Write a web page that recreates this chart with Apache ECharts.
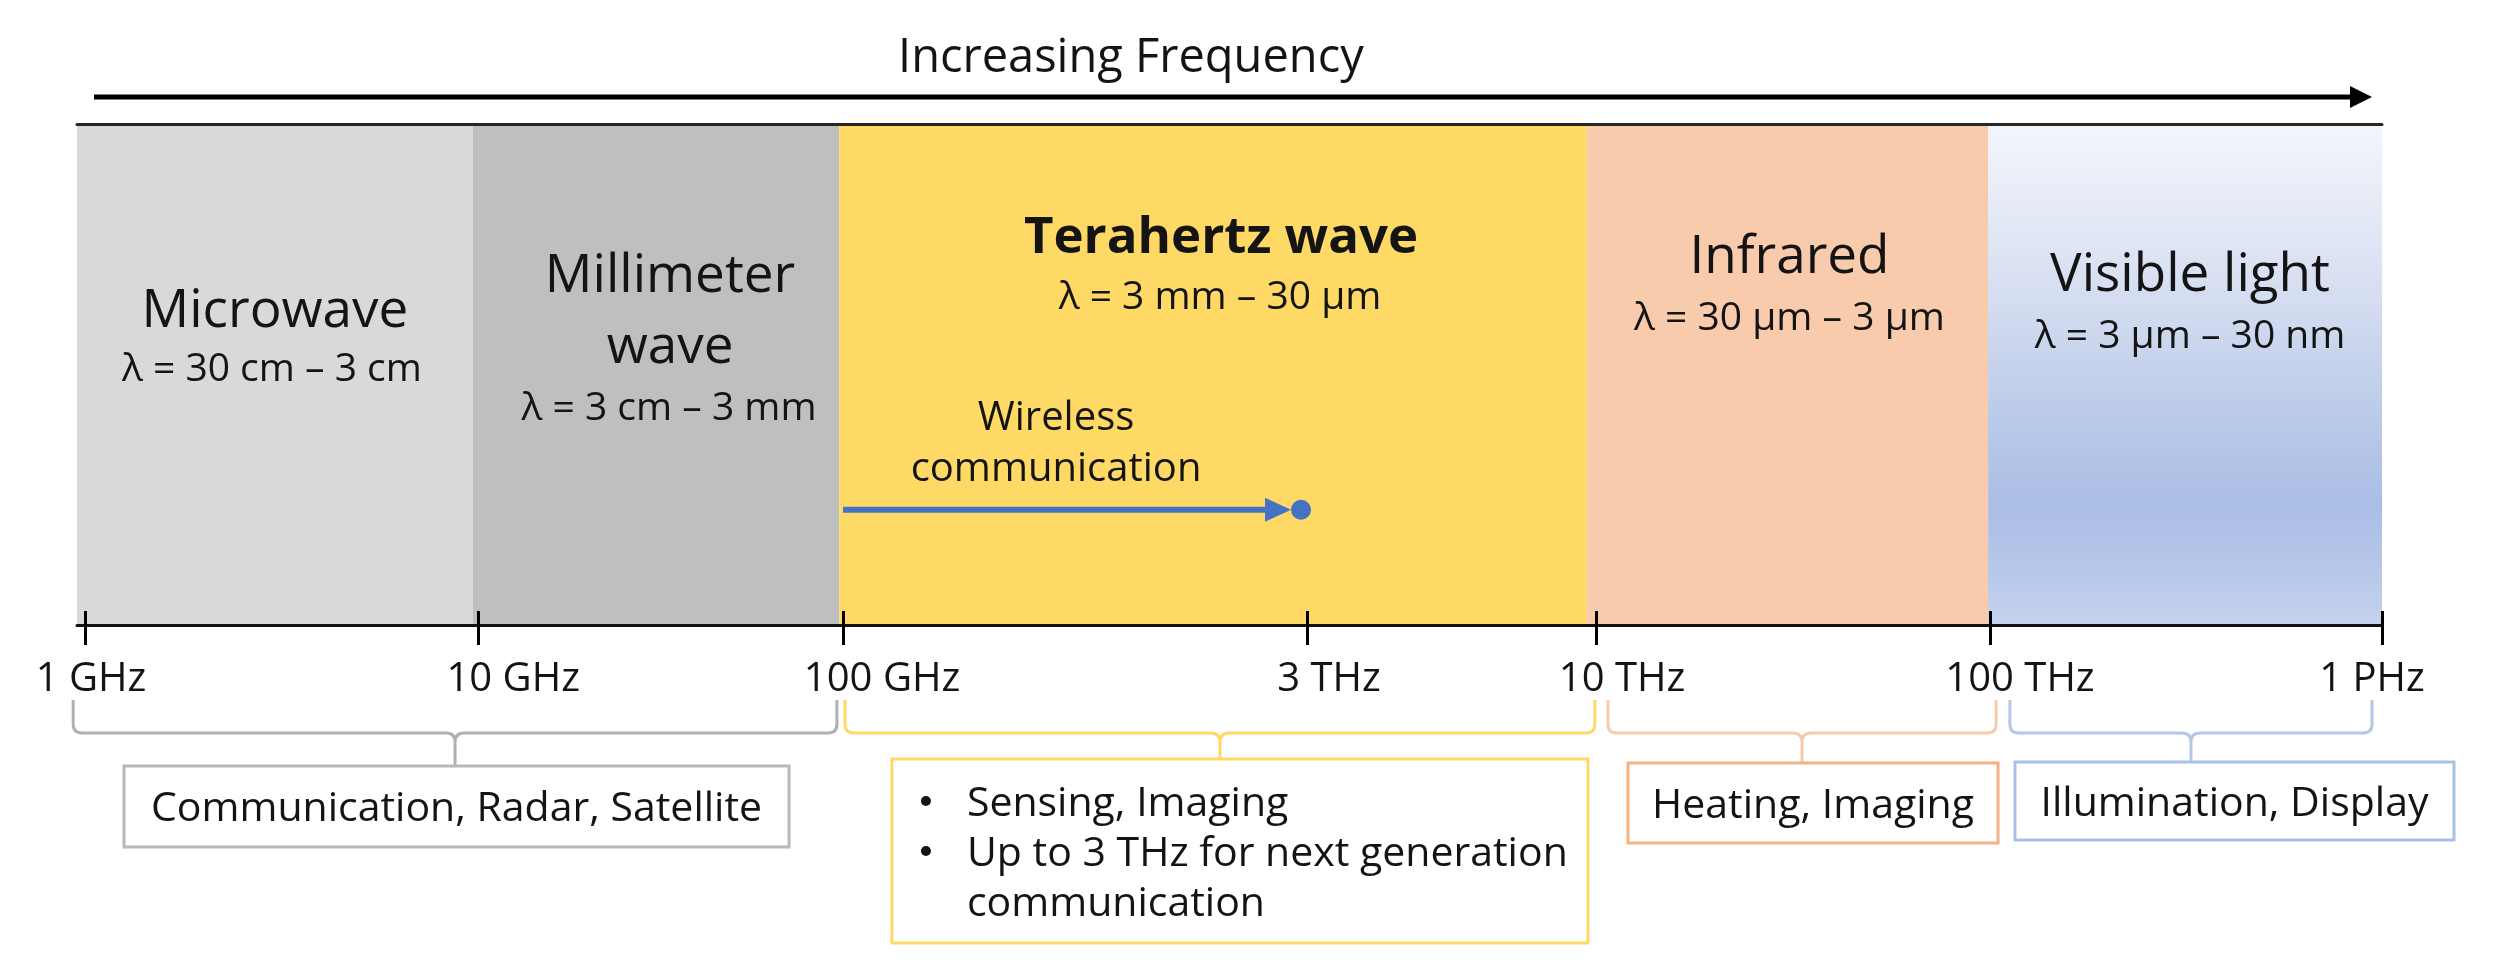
<!DOCTYPE html>
<html><head><meta charset="utf-8">
<script src="https://cdn.jsdelivr.net/npm/echarts@6/dist/echarts.min.js"></script>
<style>html,body{margin:0;padding:0;background:#fff}#c{width:2493px;height:978px}</style>
</head><body><div id="c"></div>
<script>
// ---------- data (schematic positions along the drawn axis, in decades above 1 GHz) ----------
const tickLabels = ['1 GHz', '10 GHz', '100 GHz', '3 THz', '10 THz', '100 THz', '1 PHz'];
const tickPos    = [0, 1.027, 1.980, 3.192, 3.947, 4.976, 6];

const bandNames       = ['Microwave', 'Millimeter\nwave', 'Terahertz wave', 'Infrared', 'Visible light'];
const bandWavelengths = ['λ = 30 cm – 3 cm', 'λ = 3 cm – 3 mm', 'λ = 3 mm – 30 μm', 'λ = 30 μm – 3 μm', 'λ = 3 μm – 30 nm'];
const bandFrom        = [-0.021, 1.013, 1.970, 3.923, 4.971];
const bandTo          = [1.013, 1.970, 3.923, 4.971, 6];

const appFrom  = [-0.031, 1.985, 3.978, 5.028];
const appTo    = [1.964, 3.944, 4.992, 5.974];
const appTexts = ['Communication, Radar, Satellite',
                  ['Sensing, Imaging', 'Up to 3 THz for next generation\ncommunication'],
                  'Heating, Imaging',
                  'Illumination, Display'];

const wirelessLabel = 'Wireless\ncommunication';
const wirelessFrom  = 1.980;   // 100 GHz
const wirelessTo    = 3.192;   // 3 THz
const wirelessLevel = 0.23;

const titleText = 'Increasing Frequency';
const axisMin = -0.021, axisMax = 6;

// ---------- styles / layout ----------
const FONT = '"Open Sans", "Noto Sans", sans-serif';
const TXT = '#141414';
const bandFills = ['#d9d9d9', '#bfbfbf', '#ffd966', '#f8cbad',
  new echarts.graphic.LinearGradient(0, 0, 0, 1, [
    {offset: 0, color: '#f3f5fb'}, {offset: 0.2, color: '#e2e8f5'}, {offset: 0.4, color: '#cfd9ef'},
    {offset: 0.6, color: '#b9c9e9'}, {offset: 0.76, color: '#aabde4'}, {offset: 0.9, color: '#b8c8ea'},
    {offset: 1, color: '#c6d3ee'}])];
const bandBold   = [false, false, true, false, false];
const nameSize   = [53, 53, 51, 53, 53];
const nameDX     = [0, 14, 8, 2, 5];
const nameDY     = [188, 188, 114, 134, 152];
const lambdaDX   = [-3, 13, 7, 2, 5];
const lambdaDY   = [246, 285, 174, 195, 213];
const labelShift = [6, 35, 39, 22, 26, 30, -10];   // horizontal offset of each tick label from its tick

const bracketStroke = ['#b0b0b0', '#ffd966', '#f8cbad', '#b4c7e7'];
const boxStroke     = ['#b8b8b8', '#ffd966', '#f4b183', '#a9c1e8'];
const boxLayout = [{dx: -331, w: 665, top: 141, h: 81}, {dx: -328, w: 696, top: 134, h: 184},
                   {dx: -174, w: 370, top: 138, h: 80}, {dx: -176, w: 439, top: 137, h: 78}];

const labelRich = {};
labelShift.forEach(function (s, k) {
  labelRich['t' + k] = {fontFamily: FONT, fontSize: 40, color: '#141414',
                        padding: s >= 0 ? [0, 0, 0, 2 * s] : [0, -2 * s, 0, 0]};
});

function bracketPath(x0, x1, yTop, yH, yStem, r) {
  const xc = (x0 + x1) / 2;
  return 'M' + x0 + ',' + yTop + ' L' + x0 + ',' + (yH - r) + ' Q' + x0 + ',' + yH + ' ' + (x0 + r) + ',' + yH +
    ' L' + (xc - r) + ',' + yH + ' Q' + xc + ',' + yH + ' ' + xc + ',' + (yH + r) + ' L' + xc + ',' + yStem +
    ' M' + xc + ',' + (yH + r) + ' Q' + xc + ',' + yH + ' ' + (xc + r) + ',' + yH +
    ' L' + (x1 - r) + ',' + yH + ' Q' + x1 + ',' + yH + ' ' + x1 + ',' + (yH - r) + ' L' + x1 + ',' + yTop;
}
function txt(x, y, text, size, extra) {
  return {type: 'text', x: x, y: y, style: Object.assign({
    text: text, fill: TXT, fontFamily: FONT, fontSize: size, align: 'center', verticalAlign: 'middle'}, extra || {})};
}

const chart = echarts.init(document.getElementById('c'), null, {renderer: 'canvas'});
chart.setOption({
  animation: false,
  backgroundColor: '#ffffff',
  title: {text: titleText, left: 898, top: 35, padding: 0,
          textStyle: {fontFamily: FONT, fontSize: 47, fontWeight: 'normal', color: TXT}},
  grid: {left: 77, right: 111, top: 124, bottom: 353, containLabel: false},
  xAxis: [
    {type: 'value', min: axisMin, max: axisMax, position: 'bottom', z: 10,
     axisLine: {show: true, lineStyle: {color: '#111', width: 3}},
     axisTick: {show: true, customValues: tickPos, length: 20, lineStyle: {color: '#000', width: 3}},
     axisLabel: {show: true, customValues: tickPos, margin: 35,
                 fontFamily: FONT, fontSize: 40, color: TXT, rich: labelRich,
                 formatter: function (v) {
                   const k = tickPos.indexOf(v);
                   return k >= 0 ? '{t' + k + '|' + tickLabels[k] + '}' : '';
                 }},
     splitLine: {show: false}},
    {type: 'value', min: axisMin, max: axisMax, position: 'bottom', z: 10,
     axisLine: {show: false},
     axisTick: {show: true, inside: true, customValues: tickPos, length: 14, lineStyle: {color: '#000', width: 3}},
     axisLabel: {show: false}, splitLine: {show: false}},
    {type: 'value', min: axisMin, max: axisMax, position: 'top', z: 10,
     axisLine: {show: true, lineStyle: {color: '#262626', width: 3}},
     axisTick: {show: false}, axisLabel: {show: false}, splitLine: {show: false}}
  ],
  yAxis: {type: 'value', min: 0, max: 1, show: false},
  series: [
    { // spectrum bands
      type: 'custom', name: 'bands', z: 1, silent: true, clip: false,
      encode: {x: [0, 1]},
      data: bandNames.map(function (n, i) { return [bandFrom[i], bandTo[i]]; }),
      renderItem: function (params, api) {
        const i = params.dataIndex;
        const p0 = api.coord([api.value(0), 1]);
        const p1 = api.coord([api.value(1), 0]);
        const cx = (p0[0] + p1[0]) / 2;
        return {type: 'group', children: [
          {type: 'rect', shape: {x: p0[0], y: p0[1], width: p1[0] - p0[0], height: p1[1] - p0[1]},
           style: {fill: bandFills[i]}},
          txt(cx + nameDX[i], p0[1] + nameDY[i], bandNames[i], nameSize[i],
              {fontWeight: bandBold[i] ? 'bold' : 'normal', lineHeight: 71}),
          txt(cx + lambdaDX[i], p0[1] + lambdaDY[i], bandWavelengths[i], 39)
        ]};
      }
    },
    { // Increasing frequency arrow
      type: 'custom', name: 'freqArrow', z: 3, silent: true, clip: false,
      encode: {x: [0, 1]},
      data: [[axisMin, axisMax]],
      renderItem: function (params, api) {
        const a = api.coord([api.value(0), 1]);
        const b = api.coord([api.value(1), 1]);
        const y = a[1] - 27;
        return {type: 'group', children: [
          {type: 'line', shape: {x1: a[0] + 17, y1: y, x2: b[0] - 28, y2: y}, style: {stroke: '#000', lineWidth: 5}},
          {type: 'polygon', shape: {points: [[b[0] - 32, y - 11], [b[0] - 10, y], [b[0] - 32, y + 11]]}, style: {fill: '#000'}}
        ]};
      }
    },
    { // wireless communication arrow
      type: 'custom', name: 'wireless', z: 3, silent: true, clip: false,
      encode: {x: [0, 1], y: 2},
      data: [[wirelessFrom, wirelessTo, wirelessLevel]],
      renderItem: function (params, api) {
        const a = api.coord([api.value(0), api.value(2)]);
        const b = api.coord([api.value(1), api.value(2)]);
        const y = a[1];
        const col = '#4472c4';
        return {type: 'group', children: [
          {type: 'line', shape: {x1: a[0], y1: y, x2: b[0] - 38, y2: y}, style: {stroke: col, lineWidth: 6}},
          {type: 'polygon', shape: {points: [[b[0] - 42, y - 12], [b[0] - 16, y], [b[0] - 42, y + 12]]}, style: {fill: col}},
          {type: 'circle', shape: {cx: b[0] - 6, cy: y, r: 10}, style: {fill: col}},
          txt((a[0] + b[0]) / 2 - 19, y - 66, wirelessLabel, 40, {lineHeight: 51})
        ]};
      }
    },
    { // application brackets and boxes
      type: 'custom', name: 'applications', z: 3, silent: true, clip: false,
      encode: {x: [0, 1]},
      data: appFrom.map(function (v, i) { return [v, appTo[i]]; }),
      renderItem: function (params, api) {
        const i = params.dataIndex;
        const a = api.coord([api.value(0), 0]);
        const b = api.coord([api.value(1), 0]);
        const y0 = a[1];
        const xc = (a[0] + b[0]) / 2;
        const L = boxLayout[i];
        const bx = xc + L.dx, by = y0 + L.top;
        const children = [
          {type: 'path', shape: {pathData: bracketPath(a[0], b[0], y0 + 75, y0 + 108, by, 9)},
           style: {stroke: bracketStroke[i], lineWidth: 3, fill: null}},
          {type: 'rect', shape: {x: bx, y: by, width: L.w, height: L.h},
           style: {fill: '#fff', stroke: boxStroke[i], lineWidth: 3}}
        ];
        const t = appTexts[i];
        if (Array.isArray(t)) {
          let line = 0;
          t.forEach(function (item) {
            item.split('\n').forEach(function (s, k) {
              const yy = by + 45 + line * 50;
              if (k === 0) children.push({type: 'circle', shape: {cx: bx + 34, cy: yy - 3, r: 5}, style: {fill: TXT}});
              children.push(txt(bx + 75, yy, s, 41, {align: 'left'}));
              line++;
            });
          });
        } else {
          children.push(txt(bx + L.w / 2, by + L.h / 2 + 3, t, 41));
        }
        return {type: 'group', children: children};
      }
    }
  ]
});
</script>
</body></html>
